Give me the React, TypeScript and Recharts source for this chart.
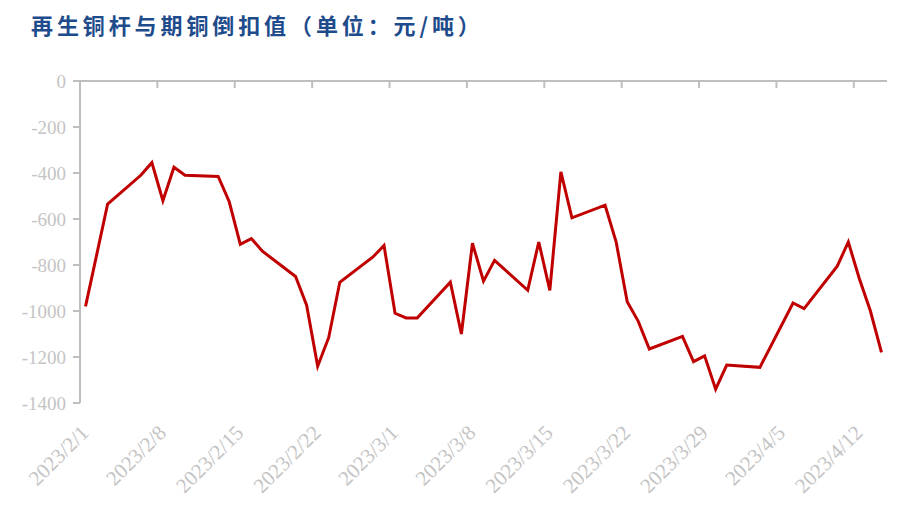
import React from 'react';
import { LineChart, Line, XAxis, YAxis } from 'recharts';

const title = '再生铜杆与期铜倒扣值（单位：元/吨）';

const dates = [
  '2023/2/1', '2023/2/3', '2023/2/6', '2023/2/7', '2023/2/8', '2023/2/9', '2023/2/10',
  '2023/2/13', '2023/2/14', '2023/2/15', '2023/2/16', '2023/2/17',
  '2023/2/20', '2023/2/21', '2023/2/22', '2023/2/23', '2023/2/24',
  '2023/2/27', '2023/2/28', '2023/3/1', '2023/3/2', '2023/3/3',
  '2023/3/6', '2023/3/7', '2023/3/8', '2023/3/9', '2023/3/10',
  '2023/3/13', '2023/3/14', '2023/3/15', '2023/3/16', '2023/3/17',
  '2023/3/20', '2023/3/21', '2023/3/22', '2023/3/23', '2023/3/24',
  '2023/3/27', '2023/3/28', '2023/3/29', '2023/3/30', '2023/3/31',
  '2023/4/3', '2023/4/6', '2023/4/7',
  '2023/4/10', '2023/4/11', '2023/4/12', '2023/4/13', '2023/4/14',
];

const values = [
  -980, -535, -410, -355, -520, -375, -410,
  -415, -525, -710, -685, -740,
  -850, -975, -1240, -1115, -875,
  -765, -715, -1010, -1030, -1030,
  -875, -1100, -705, -870, -780,
  -910, -700, -910, -395, -595,
  -540, -700, -960, -1045, -1165,
  -1110, -1220, -1195, -1340, -1235,
  -1245, -965, -990,
  -805, -700, -860, -1000, -1180,
];

const tickDates = [
  '2023/2/1', '2023/2/8', '2023/2/15', '2023/2/22', '2023/3/1', '2023/3/8',
  '2023/3/15', '2023/3/22', '2023/3/29', '2023/4/5', '2023/4/12',
];

const yTicks = [0, -200, -400, -600, -800, -1000, -1200, -1400];

const START_DATE = '2023/2/1';
const END_DATE = '2023/4/15';

function dayIndex(s: string): number {
  const [y, m, d] = s.split('/').map(Number);
  const [y0, m0, d0] = START_DATE.split('/').map(Number);
  return Math.round((Date.UTC(y, m - 1, d) - Date.UTC(y0, m0 - 1, d0)) / 86400000);
}

const data = dates.map((d, i) => ({ x: dayIndex(d) + 0.5, v: values[i], date: d }));
const xTicks = tickDates.map(dayIndex);
const xDomain = [0, dayIndex(END_DATE)];

const GRAY = '#BFBFBF';
const LABEL_GRAY = '#C4C4C4';
const SERIF = "'Liberation Serif', 'DejaVu Serif', serif";

const labelFor = (v: number) => {
  const i = xTicks.indexOf(v);
  return i >= 0 ? tickDates[i] : '';
};

const XTick = (props: any) => {
  const { x, y, payload } = props;
  const tx = x + 10;
  const ty = y + 31;
  return (
    <text
      x={tx}
      y={ty}
      transform={`rotate(-45, ${tx}, ${ty})`}
      textAnchor="end"
      fill={LABEL_GRAY}
      fontFamily={SERIF}
      fontSize={21}
    >
      {labelFor(payload.value)}
    </text>
  );
};

const EmptyTick = () => <g />;

export default function App() {
  return (
    <div style={{ position: 'absolute', left: 0, top: 0, width: 913, height: 516, background: '#fff' }}>
      <div
        style={{
          position: 'absolute',
          left: 31,
          top: 13,
          fontFamily: "'Noto Sans CJK SC', sans-serif",
          fontWeight: 700,
          fontSize: 22,
          lineHeight: '22px',
          letterSpacing: 3.9,
          color: '#1E4B8C',
          whiteSpace: 'nowrap',
        }}
      >
        {title}
      </div>
      <LineChart
        width={913}
        height={516}
        data={data}
        margin={{ top: 81, right: 26, bottom: 83, left: 0 }}
      >
        <XAxis
          xAxisId="top"
          dataKey="x"
          type="number"
          orientation="top"
          mirror
          domain={xDomain}
          ticks={xTicks}
          interval={0}
          tick={<EmptyTick />}
          tickSize={7}
          axisLine={{ stroke: GRAY, strokeWidth: 2 }}
          tickLine={{ stroke: GRAY, strokeWidth: 2 }}
          allowDataOverflow
        />
        <XAxis
          xAxisId="bottom"
          dataKey="x"
          type="number"
          orientation="bottom"
          height={30}
          domain={xDomain}
          ticks={xTicks}
          interval={0}
          axisLine={false}
          tickLine={false}
          tickSize={0}
          tickMargin={0}
          tick={<XTick />}
          allowDataOverflow
        />
        <YAxis
          type="number"
          width={80}
          domain={[-1400, 0]}
          ticks={yTicks}
          interval={0}
          axisLine={{ stroke: GRAY, strokeWidth: 2 }}
          tickLine={{ stroke: GRAY, strokeWidth: 2 }}
          tickSize={7}
          tickMargin={7}
          tick={{ fill: LABEL_GRAY, fontFamily: SERIF, fontSize: 19 }}
          allowDataOverflow
        />
        <Line
          xAxisId="top"
          dataKey="v"
          type="linear"
          stroke="none"
          strokeWidth={0}
          dot={false}
          activeDot={false}
          legendType="none"
          isAnimationActive={false}
        />
        <Line
          xAxisId="bottom"
          dataKey="v"
          type="linear"
          stroke="#C00000"
          strokeWidth={3}
          dot={false}
          activeDot={false}
          isAnimationActive={false}
        />
      </LineChart>
    </div>
  );
}
